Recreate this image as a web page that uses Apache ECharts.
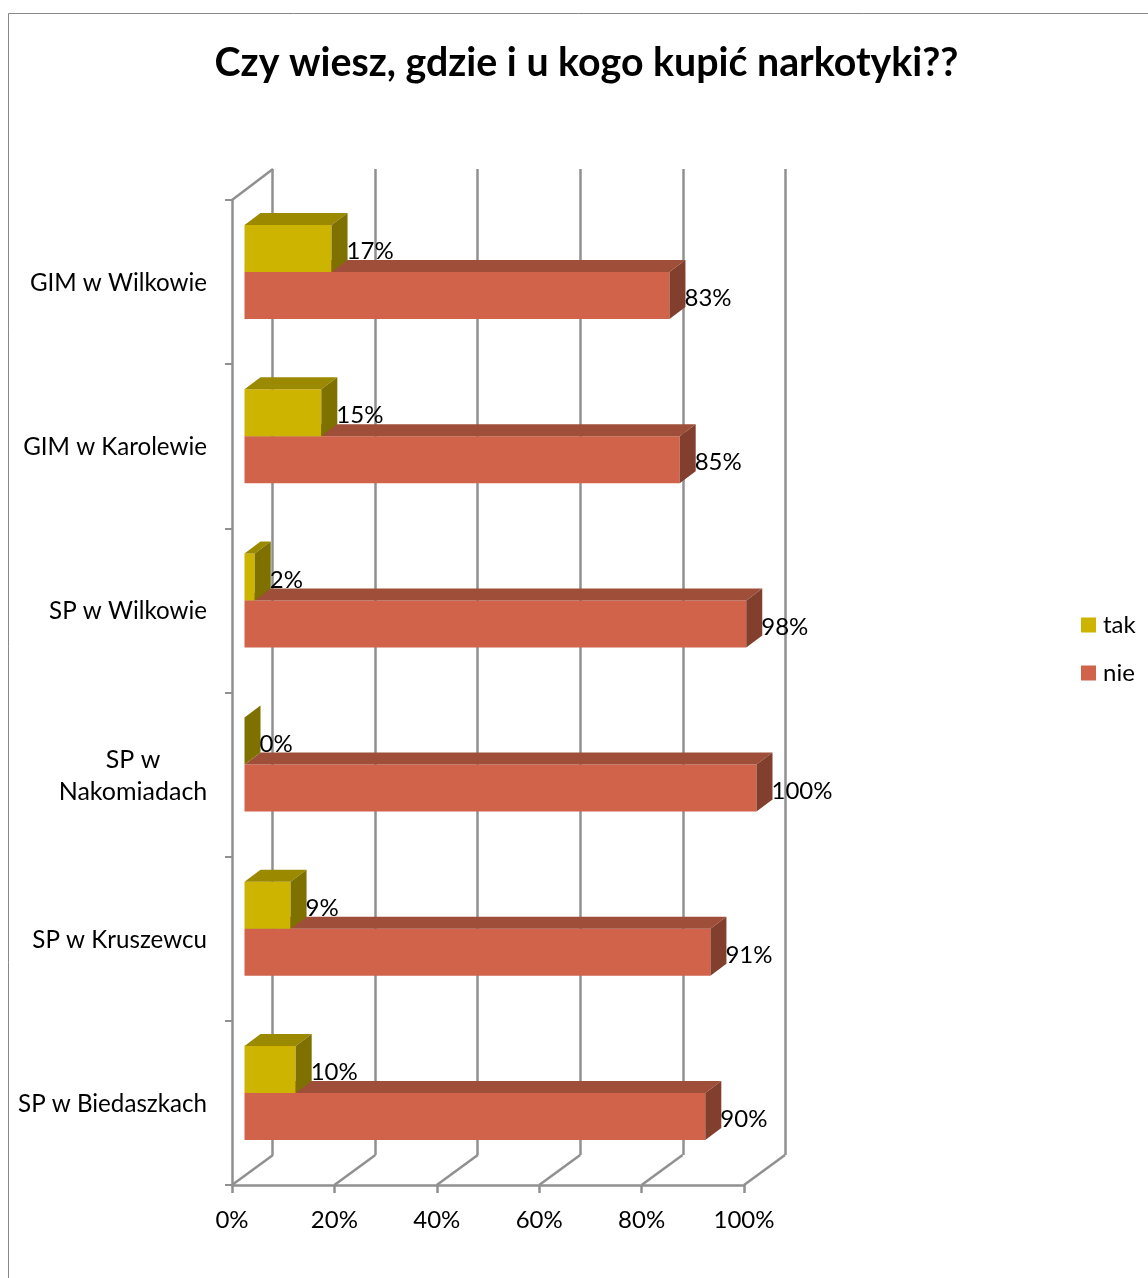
<!DOCTYPE html>
<html><head><meta charset="utf-8">
<style>html,body{margin:0;padding:0;background:#fff}#c{width:1148px;height:1278px}</style>
<script src="https://cdn.jsdelivr.net/npm/echarts@6/dist/echarts.min.js"></script>
</head><body><div id="c"></div>
<script>
const categories = ['SP w Biedaszkach','SP w Kruszewcu','SP w Nakomiadach','SP w Wilkowie','GIM w Karolewie','GIM w Wilkowie'];
const tak = [10,9,0,2,15,17];
const nie = [90,91,100,98,85,83];
const valueTicks = [0,20,40,60,80,100];

const FONT='Lato', GRAY='#909090';
const chart = echarts.init(document.getElementById('c'),null,{renderer:'canvas'});

function bar3d(front,top,side,slot){
  return function(params,api){
    const v=api.value(0), cat=api.value(1);
    const p0=api.coord([0,cat]), p1=api.coord([v,cat]);
    const H=47, ox=12.5, oy=-10, dx=16, dy=-12;
    const x0=p0[0]+ox, x1=p1[0]+ox;
    const yc=p0[1]+oy, y0=slot===0?yc-H:yc, y1=y0+H;
    const kids=[];
    if(v>0){
      kids.push({type:'rect',shape:{x:x0,y:y0,width:x1-x0,height:H},style:{fill:front}});
      kids.push({type:'polygon',shape:{points:[[x0,y0],[x1,y0],[x1+dx,y0+dy],[x0+dx,y0+dy]]},style:{fill:top}});
    }
    kids.push({type:'polygon',shape:{points:[[x1,y0],[x1+dx,y0+dy],[x1+dx,y1+dy],[x1,y1]]},style:{fill:side}});
    kids.push({type:'text',z2:50,style:{x:x1+dx-1,y:y0+H/2-9,text:v+'%',fill:'#000',font:'24px '+FONT,textAlign:'left',textBaseline:'middle'}});
    return {type:'group',children:kids};
  };
}
function floorLines(params,api){
  const v=api.value(0);
  const c=api.coord([v,0]), band=api.size([0,1])[1];
  const yb=c[1]+band/2;
  return {type:'line',shape:{x1:c[0],y1:yb,x2:c[0]+41,y2:yb-30},style:{stroke:GRAY,lineWidth:2.5}};
}
function topLine(params,api){
  const c=api.coord([0,categories.length-1]), band=api.size([0,1])[1];
  const yt=c[1]-band/2;
  return {type:'line',shape:{x1:c[0],y1:yt,x2:c[0]+41,y2:yt-31},style:{stroke:GRAY,lineWidth:2.5}};
}

chart.setOption({
  animation:false,
  backgroundColor:'#fff',
  title:{text:'Czy wiesz, gdzie i u kogo kupić narkotyki??',left:581.5,top:39,textAlign:'center',
    textStyle:{fontFamily:FONT,fontWeight:'bold',fontSize:39.3,color:'#000'}},
  graphic:[{type:'rect',silent:true,shape:{x:8.5,y:13.5,width:1300,height:1400},style:{fill:'none',stroke:'#868686',lineWidth:1}}],
  legend:{data:['tak','nie'],orient:'vertical',left:1076,top:605,itemWidth:15,itemHeight:15,itemGap:18,
    textStyle:{fontFamily:FONT,fontSize:24,color:'#000',padding:[0,0,0,2],lineHeight:30},
    icon:'rect',selectedMode:false},
  grid:[
    {left:232,top:200,width:512,height:985,containLabel:false},
    {left:272.5,top:169,width:513,height:986}
  ],
  xAxis:[
    {type:'value',gridIndex:0,min:0,max:100,interval:20,splitLine:{show:false},
     axisLine:{show:true,lineStyle:{color:GRAY,width:2.5}},
     axisTick:{show:true,length:8,lineStyle:{color:GRAY,width:2.5}},
     axisLabel:{margin:23,fontFamily:FONT,fontSize:24,color:'#000',formatter:v=>v+'%',customValues:valueTicks}},
    {type:'value',gridIndex:1,min:0,max:100,interval:20,
     axisLine:{show:false},axisTick:{show:false},axisLabel:{show:false},
     splitLine:{show:true,lineStyle:{color:GRAY,width:2.5}}}
  ],
  yAxis:[
    {type:'category',gridIndex:0,data:categories,
     axisLine:{show:true,lineStyle:{color:GRAY,width:2.5}},
     axisTick:{show:true,length:7,lineStyle:{color:GRAY,width:2}},
     axisLabel:{margin:25,interval:0,fontFamily:FONT,fontSize:24.15,color:'#000',padding:[2,0,0,0],
       formatter:v=>v==='SP w Nakomiadach'?'{c|SP w}\n{c|Nakomiadach}':v,
       rich:{c:{fontFamily:FONT,fontSize:25,color:'#000',width:148,align:'center',lineHeight:32}}}},
    {type:'category',gridIndex:1,data:categories,show:false}
  ],
  series:[
    {type:'custom',name:'floor',xAxisIndex:0,yAxisIndex:0,data:valueTicks.map(v=>[v,0]),renderItem:floorLines,silent:true,clip:false,z:1,tooltip:{show:false}},
    {type:'custom',name:'wall',xAxisIndex:0,yAxisIndex:0,data:[[0,5]],renderItem:topLine,silent:true,clip:false,z:1},
    {type:'custom',name:'nie',xAxisIndex:0,yAxisIndex:0,data:nie.map((v,i)=>[v,i]),encode:{x:0,y:1},clip:false,z:3,
     itemStyle:{color:'#D1634A'},renderItem:bar3d('#D1634A','#9F4F39','#823F2D',1)},
    {type:'custom',name:'tak',xAxisIndex:0,yAxisIndex:0,data:tak.map((v,i)=>[v,i]),encode:{x:0,y:1},clip:false,z:4,
     itemStyle:{color:'#CCB400'},renderItem:bar3d('#CCB400','#9B8900','#7E7100',0)}
  ]
});
</script></body></html>
